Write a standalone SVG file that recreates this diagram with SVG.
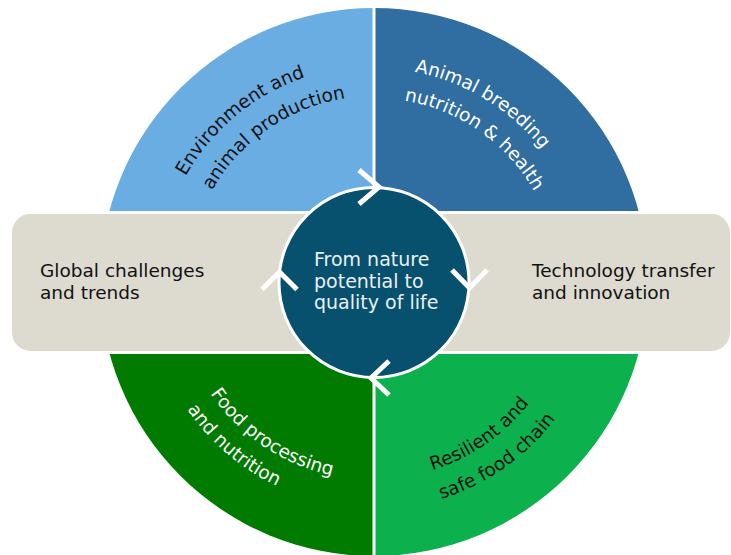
<svg xmlns="http://www.w3.org/2000/svg" width="731" height="555" viewBox="0 0 731 555">
<style>
text{font-family:"DejaVu Sans","Verdana","Liberation Sans",sans-serif;font-size:18.5px}
.dark{fill:#111}
.light{fill:#fff}
.arc{text-anchor:middle}
.ctr{fill:#EAF0F3;font-size:19px}
.chev{fill:none;stroke:#fff;stroke-width:5;stroke-linejoin:miter}
</style>
<defs>
<path id="pTL1" d="M161.5,243 A216,216 0 0 1 375.5,66"/>
<path id="pTL2" d="M194.6,232.9 A186,186 0 0 1 391.2,96.8"/>
<path id="pTR1" d="M341.6,70.5 A214,214 0 0 1 576.7,213.4"/>
<path id="pTR2" d="M358,98.7 A184,184 0 0 1 551.7,234.4"/>
<path id="pBL1" d="M183.7,336.6 A198,198 0 0 0 394.7,478.9"/>
<path id="pBL2" d="M151,318.9 A226,226 0 0 0 371.6,508"/>
<path id="pBR1" d="M355.5,478.1 A197,197 0 0 0 563.9,334.3"/>
<path id="pBR2" d="M354.6,508.2 A227,227 0 0 0 593.4,340.4"/>
</defs>
<rect width="731" height="555" fill="#fff"/>
<g id="environment">
<path d="M374,282 L100,282 A274,274 0 0 1 374,8 Z" fill="#6AADE3"/>
<text class="dark arc"><textPath href="#pTL1" startOffset="50%">Environment and</textPath></text>
<text class="dark arc"><textPath href="#pTL2" startOffset="50%">animal production</textPath></text>
</g>
<g id="breeding">
<path d="M374,282 L374,8 A274,274 0 0 1 648,282 Z" fill="#306DA1"/>
<text class="light arc"><textPath href="#pTR1" startOffset="50%">Animal breeding</textPath></text>
<text class="light arc"><textPath href="#pTR2" startOffset="50%">nutrition &amp; health</textPath></text>
</g>
<g id="foodchain">
<path d="M374,282 L648,282 A274,274 0 0 1 374,556 Z" fill="#0CB04D"/>
<text class="dark arc"><textPath href="#pBR1" startOffset="50%">Resilient and</textPath></text>
<text class="dark arc"><textPath href="#pBR2" startOffset="50%">safe food chain</textPath></text>
</g>
<g id="foodprocessing">
<path d="M374,282 L374,556 A274,274 0 0 1 100,282 Z" fill="#007B00"/>
<text class="light arc"><textPath href="#pBL1" startOffset="50%">Food processing</textPath></text>
<text class="light arc"><textPath href="#pBL2" startOffset="50%">and nutrition</textPath></text>
</g>
<line x1="374" y1="6" x2="374" y2="556" stroke="#fff" stroke-width="3"/>
<g id="band">
<rect x="10.5" y="212.5" width="721" height="140" rx="20" fill="#DDDBD0" stroke="#fff" stroke-width="3"/>
</g>
<g id="global">
<text class="dark" x="40" y="277">Global challenges</text>
<text class="dark" x="40" y="299">and trends</text>
</g>
<g id="technology">
<text class="dark" x="532" y="277">Technology transfer</text>
<text class="dark" x="532" y="299">and innovation</text>
</g>
<g id="center">
<circle cx="374" cy="282.5" r="95" fill="#07506E" stroke="#fff" stroke-width="3"/>
<text class="ctr" x="314" y="265.7">From nature</text>
<text class="ctr" x="314" y="287.5">potential to</text>
<text class="ctr" x="314" y="309">quality of life</text>
</g>
<g id="connectors">
<path class="chev" d="M359,170 L379,187 L359,204"/>
<path class="chev" d="M452,270 L469.5,288 L487,270"/>
<path class="chev" d="M389,361 L371,378 L389,395"/>
<path class="chev" d="M262,289.5 L279.5,272 L297,289.5"/>
</g>
</svg>
